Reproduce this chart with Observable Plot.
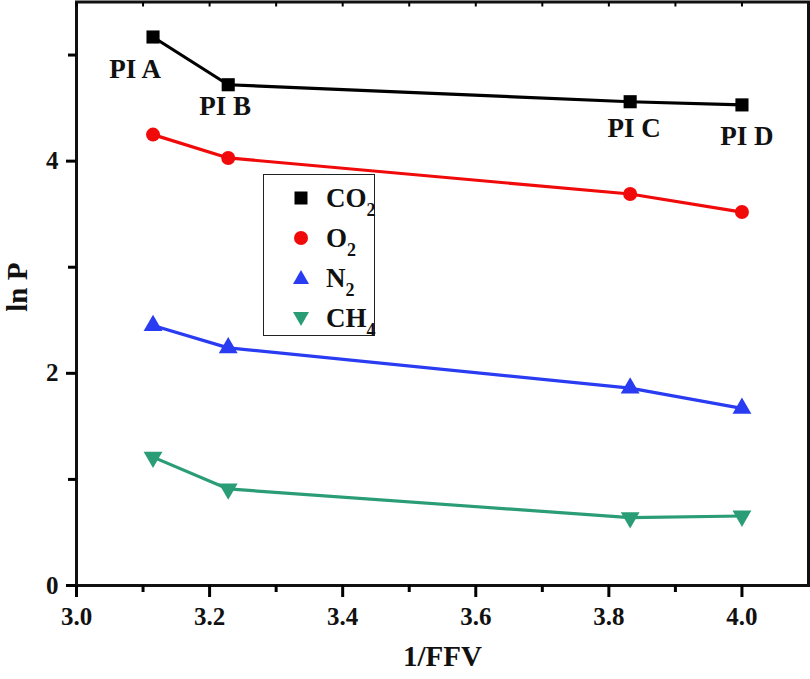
<!DOCTYPE html>
<html>
<head>
<meta charset="utf-8">
<script src="https://cdn.jsdelivr.net/npm/d3@7"></script>
<script src="https://cdn.jsdelivr.net/npm/@observablehq/plot@0.6"></script>
<style>
  html, body { margin: 0; padding: 0; background: #fff; }
  #wrap { position: relative; width: 810px; height: 679px; }
  #legend {
    position: absolute; left: 263px; top: 174px; width: 112px; height: 162px;
    border: 1.5px solid #222; background: #fff; box-sizing: border-box;
    font-family: "Liberation Serif", "Times New Roman", serif; font-weight: bold; font-size: 27px; color: #111;
  }
  .row { position: absolute; left: 0; height: 30px; }
  .row svg { position: absolute; left: 25px; }
  .row span { position: absolute; left: 62px; white-space: nowrap; line-height: 1; top: 2px; }
  .row sub { font-size: 18px; vertical-align: -9px; }
</style>
</head>
<body>
<div id="wrap"></div>
<script>
// ---- data ----
const xVals = [3.115, 3.228, 3.832, 4.0];
const piLabels = ["PI A", "PI B", "PI C", "PI D"];
const co2 = [5.17, 4.72, 4.56, 4.53];
const o2 = [4.25, 4.03, 3.69, 3.52];
const n2 = [2.45, 2.24, 1.86, 1.67];
const ch4 = [1.21, 0.91, 0.64, 0.655];
const seriesNames = ["CO2", "O2", "N2", "CH4"];
const seriesColors = ["#000000", "#f00a0a", "#2a3cf2", "#2a9c76"];
const xMajor = [3.0, 3.2, 3.4, 3.6, 3.8, 4.0];
const xMinor = [3.1, 3.3, 3.5, 3.7, 3.9];
const yMajor = [0, 2, 4];
const yMinor = [1, 3, 5];
const xLabel = "1/FFV";
const yLabel = "ln P";

const triangleDown = {
  draw(context, size) {
    const sqrt3 = Math.sqrt(3);
    const y = -Math.sqrt(size / (sqrt3 * 3));
    context.moveTo(0, -y * 2);
    context.lineTo(-sqrt3 * y, y);
    context.lineTo(sqrt3 * y, y);
    context.closePath();
  }
};
const symbols = ["square", "circle", "triangle", triangleDown];
const radii = [7.4, 7, 7, 7];
const seriesVals = [co2, o2, n2, ch4];

const font = '"Liberation Serif", "Times New Roman", serif';

const marks = [];
seriesVals.forEach((vals, s) => {
  const data = xVals.map((x, i) => ({x, y: vals[i]}));
  marks.push(Plot.line(data, {x: "x", y: "y", stroke: seriesColors[s], strokeWidth: 3.2}));
  marks.push(Plot.dot(data, {x: "x", y: "y", symbol: () => symbols[s], fill: seriesColors[s], stroke: "none", r: radii[s]}));
});
const offs = [[-18, 32], [-3, 22], [4, 27], [5, 31]];
piLabels.forEach((lab, i) => {
  marks.push(Plot.text([lab], {x: xVals[i], y: co2[i], text: d => d, dx: offs[i][0], dy: offs[i][1],
    fontSize: 27, fontWeight: "bold", fill: "#111"}));
});

const plot = Plot.plot({
  width: 810,
  height: 679,
  marginLeft: 76,
  marginRight: 2,
  marginTop: 1.5,
  marginBottom: 94,
  style: {fontFamily: font, background: "#fff", overflow: "visible"},
  x: {domain: [3.0, 4.1]},
  y: {domain: [0, 5.5]},
  marks: [
    Plot.frame({stroke: "#111", strokeWidth: 3}),
    Plot.axisX({ticks: xMajor, tickFormat: d3.format(".1f"), tickSize: 12, tickPadding: 10, strokeWidth: 3,
      fontSize: 25, fontWeight: "bold", fill: "#111", label: null}),
    Plot.axisX({ticks: xMinor, tickSize: 7, strokeWidth: 3, text: null, label: null}),
    Plot.axisX({anchor: "top", ticks: xMajor.concat(xMinor), tickSize: -4, strokeWidth: 2, text: null, label: null}),
    Plot.axisY({ticks: yMajor, tickFormat: d3.format("d"), tickSize: 10, tickPadding: 8, strokeWidth: 3,
      fontSize: 25, fontWeight: "bold", fill: "#111", label: null}),
    Plot.axisY({ticks: yMinor, tickSize: 8, strokeWidth: 3, text: null, label: null}),
    Plot.text([xLabel], {frameAnchor: "bottom", text: d => d, dy: 80, fontSize: 29, fontWeight: "bold", fill: "#111"}),
    Plot.text([yLabel], {frameAnchor: "left", text: d => d, rotate: -90, dx: -59, dy: 18, fontSize: 29, fontWeight: "bold", fill: "#111"}),
    ...marks
  ]
});

const wrap = document.getElementById("wrap");
wrap.appendChild(plot);

// legend
const legend = document.createElement("div");
legend.id = "legend";
const legendHTML = [
  ['<rect x="-6.5" y="-6.5" width="13" height="13" fill="#000"/>', 'CO<sub>2</sub>'],
  ['<circle r="7" fill="#f00a0a"/>', 'O<sub>2</sub>'],
  ['<path d="M0,-8L8,6L-8,6Z" fill="#2a3cf2"/>', 'N<sub>2</sub>'],
  ['<path d="M0,8L8,-6L-8,-6Z" fill="#2a9c76"/>', 'CH<sub>4</sub>']
];
legendHTML.forEach((e, i) => {
  const row = document.createElement("div");
  row.className = "row";
  row.style.top = (8 + i * 40) + "px";
  row.innerHTML = `<svg width="24" height="30" viewBox="-12 -15 24 30" style="top:0">${e[0]}</svg><span>${e[1]}</span>`;
  legend.appendChild(row);
});
wrap.appendChild(legend);
</script>
</body>
</html>
